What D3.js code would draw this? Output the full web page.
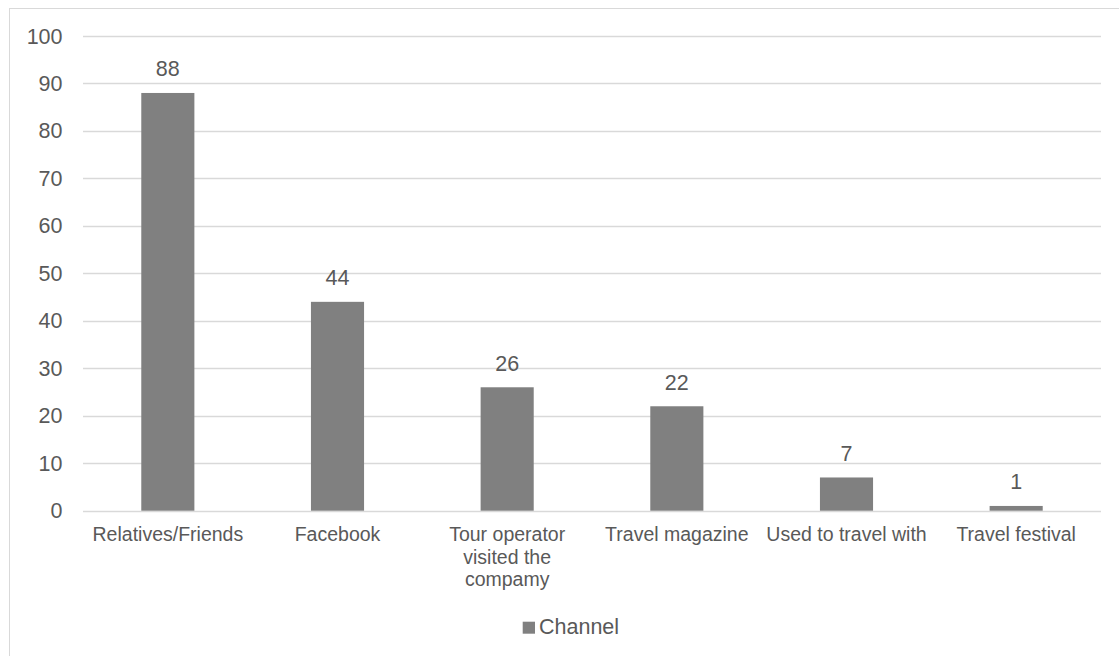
<!DOCTYPE html>
<html><head><meta charset="utf-8">
<script src="https://cdn.jsdelivr.net/npm/d3@7"></script>
<style>body{margin:0;background:#fff}svg{display:block}text{font-family:"Liberation Sans",Arial,sans-serif;fill:#595959}</style>
</head><body><svg id="c" width="1119" height="656"></svg>
<script>
const categories = ["Relatives/Friends","Facebook","Tour operator visited the compamy","Travel magazine","Used to travel with","Travel festival"];
const categoryLines = [["Relatives/Friends"],["Facebook"],["Tour operator","visited the","compamy"],["Travel magazine"],["Used to travel with"],["Travel festival"]];
const values = [88,44,26,22,7,1];
const yTicks = [0,10,20,30,40,50,60,70,80,90,100];
const seriesName = "Channel";

(function(){
const svg = d3.select("#c");
const pl = 83, pr = 1101, pt = 36, pb = 510.7;
svg.append("rect").attr("x",9.5).attr("y",8.5).attr("width",1120).attr("height",660)
  .attr("fill","none").attr("stroke","#d9d9d9").attr("stroke-width",1);

const x = d3.scaleBand().domain(categories).range([pl,pr]).padding(0);
const y = d3.scaleLinear().domain([0,100]).range([pb,pt]);
const fs = 21.5, fc = 19.5;

svg.append("g").selectAll("line").data(yTicks).join("line")
  .attr("x1",pl).attr("x2",pr).attr("y1",d=>Math.round(y(d))+0.5).attr("y2",d=>Math.round(y(d))+0.5)
  .attr("stroke","#d9d9d9").attr("stroke-width",1.3);

svg.append("g").selectAll("text").data(yTicks).join("text")
  .attr("x",62.5).attr("y",d=>y(d)).attr("dy","0.35em").attr("text-anchor","end")
  .style("font-size",fs+"px").text(d=>d);

const bw = x.bandwidth()*0.313;
svg.append("g").selectAll("rect").data(values).join("rect")
  .attr("x",(d,i)=>x(categories[i])+x.bandwidth()/2-bw/2).attr("width",bw)
  .attr("y",d=>y(d)).attr("height",d=>y(0)-y(d)).attr("fill","#808080");

svg.append("g").selectAll("text").data(values).join("text")
  .attr("x",(d,i)=>x(categories[i])+x.bandwidth()/2).attr("y",d=>y(d)-16.5)
  .attr("text-anchor","middle").style("font-size",fs+"px").text(d=>d);

const lab = svg.append("g").selectAll("text").data(categoryLines).join("text")
  .attr("text-anchor","middle").style("font-size",fc+"px")
  .attr("transform",(d,i)=>`translate(${x(categories[i])+x.bandwidth()/2},541)`);
lab.selectAll("tspan").data(d=>d).join("tspan").attr("x",0).attr("y",(d,i)=>i*22.7).text(d=>d);

const lg = svg.append("g");
lg.append("rect").attr("x",522.7).attr("y",621.7).attr("width",12.3).attr("height",12).attr("fill","#808080");
lg.append("text").attr("x",539).attr("y",634.3).style("font-size",fs+"px").text(seriesName);
})();
</script></body></html>
